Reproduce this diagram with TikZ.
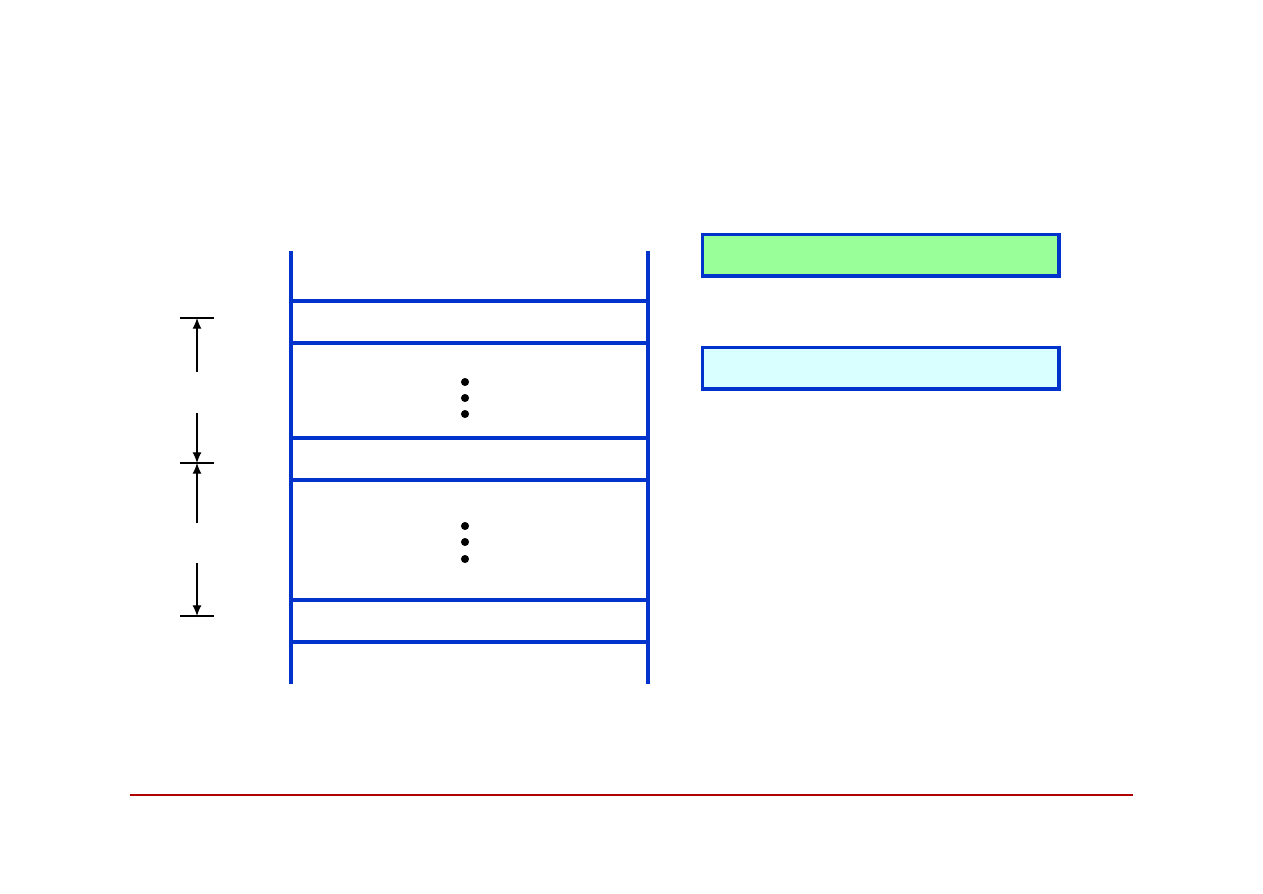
\documentclass[tikz,border=0pt]{standalone}
\usetikzlibrary{arrows.meta,positioning}
\definecolor{wallblue}{RGB}{0,51,204}
\definecolor{slotgreen}{RGB}{153,255,153}
\definecolor{slotcyan}{RGB}{217,255,255}
\definecolor{rulered}{RGB}{176,0,0}
\tikzset{
  frame/.style={draw=wallblue,line width=1.8pt,minimum width=357*0.02cm,
    minimum height=42*0.02cm,inner sep=0pt,outer sep=0pt,anchor=north west},
  legendbox/.style={frame,line width=2.1pt,minimum width=356.5*0.02cm,minimum height=41.5*0.02cm},
  wall/.style={draw=wallblue,line width=1.9pt},
  dim/.style={line width=0.6pt,-{Latex[length=6pt,width=5pt]}},
  tick/.style={line width=0.6pt},
}
\begin{document}
\begin{tikzpicture}[x=0.02cm,y=-0.02cm,line cap=butt]
\useasboundingbox (0,0) rectangle (1263,893);

% ---- stack walls ----
\draw[wall] (291,251) -- (291,684);
\draw[wall] (648,251) -- (648,684);

% ---- frames ----
\node[frame] (f1) at (291,301) {};
\node[frame] (f2) at (291,438) {};
\node[frame] (f3) at (291,600) {};

% dots between frames
\foreach \y in {382,398,414,526,542,559}
  \fill (465,\y) circle[radius=2.3pt];

% ---- dimension marks ----
\coordinate (t1) at (197,318);
\coordinate (t2) at (197,463);
\coordinate (t3) at (197,616);
\foreach \t in {t1,t2,t3}
  \draw[tick] ([xshift=-17*0.02cm]\t) -- ([xshift=17*0.02cm]\t);

\coordinate (g1a) at (197,372);
\coordinate (g1b) at (197,413);
\coordinate (g2a) at (197,523);
\coordinate (g2b) at (197,563);
\draw[dim] (g1a) -- (t1);
\draw[dim] (g1b) -- (t2);
\draw[dim] (g2a) -- (t2);
\draw[dim] (g2b) -- (t3);

% ---- legend ----
\node[legendbox,fill=slotgreen] (lg) at (702.5,234.5) {};
\node[legendbox,fill=slotcyan] (lc) at (702.5,347.5) {};

% ---- footer rule ----
\draw[rulered,line width=0.7pt] (130,795) -- (1133,795);
\end{tikzpicture}
\end{document}
